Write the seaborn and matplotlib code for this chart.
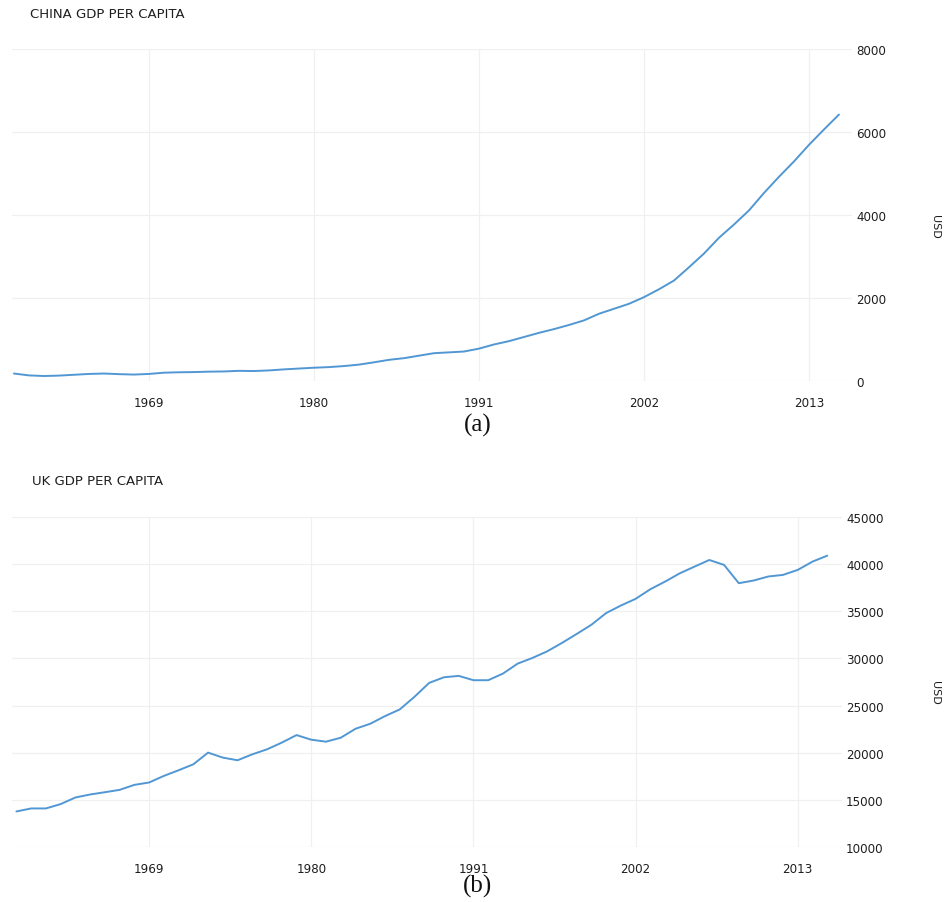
import matplotlib
matplotlib.use("Agg")
import matplotlib.pyplot as plt
import seaborn as sns
import pandas as pd

# Annual GDP per capita (USD), 1960-2015
years = list(range(1960, 2016))

china_gdp = [180, 135, 120, 130, 150, 170, 180, 165, 155, 170,
             200, 210, 215, 225, 230, 245, 240, 255, 280, 300,
             320, 335, 360, 395, 450, 510, 550, 610, 670, 690,
             710, 780, 880, 960, 1060, 1160, 1250, 1350, 1460, 1620,
             1740, 1860, 2020, 2210, 2420, 2740, 3070, 3450, 3770, 4110,
             4530, 4920, 5290, 5690, 6060, 6420]

uk_gdp = [13770, 14090, 14090, 14550, 15250, 15570, 15810, 16060, 16590, 16840,
          17540, 18140, 18770, 20010, 19480, 19200, 19830, 20360, 21070, 21870,
          21380, 21170, 21590, 22540, 23070, 23880, 24590, 25930, 27410, 28000,
          28150, 27690, 27690, 28390, 29450, 30050, 30750, 31640, 32590, 33570,
          34810, 35610, 36320, 37340, 38150, 39030, 39740, 40440, 39920, 37980,
          38260, 38690, 38860, 39390, 40270, 40900]

x_ticks = [1969, 1980, 1991, 2002, 2013]
china_yticks = [0, 2000, 4000, 6000, 8000]
uk_yticks = [10000, 15000, 20000, 25000, 30000, 35000, 40000, 45000]

china_df = pd.DataFrame({"year": years, "gdp": china_gdp})
uk_df = pd.DataFrame({"year": years, "gdp": uk_gdp})

sns.set_style("white")
plt.rcParams["font.family"] = ["DejaVu Sans"]

LINE = "#5197d3"
GRID = "#f0f0f0"
TEXT = "#1e1e1e"

fig = plt.figure(figsize=(9.52, 9.03), dpi=100)
W, H = 952, 903


def make_axes(left, right, top, bottom):
    return fig.add_axes([left / W, 1 - bottom / H, (right - left) / W, (bottom - top) / H])


def style(ax, df, title, yticks, xlim, title_pos, label_pos):
    sns.lineplot(data=df, x="year", y="gdp", ax=ax, color=LINE, linewidth=1.4)
    ax.set_xlim(*xlim)
    ax.set_ylim(yticks[0], yticks[-1])
    ax.set_xticks(x_ticks)
    ax.set_xticklabels([str(t) for t in x_ticks])
    ax.set_yticks(yticks)
    ax.set_yticklabels([str(t) for t in yticks])
    ax.yaxis.tick_right()
    ax.tick_params(axis="both", length=0, labelsize=8.6, colors=TEXT)
    ax.tick_params(axis="x", pad=11)
    ax.tick_params(axis="y", pad=3)
    ax.grid(True, color=GRID, linewidth=0.9)
    ax.set_axisbelow(True)
    for s in ax.spines.values():
        s.set_visible(False)
    ax.set_xlabel("")
    ax.yaxis.set_label_position("right")
    ax.set_ylabel("USD", rotation=270, fontsize=8, color=TEXT)
    ax.yaxis.set_label_coords(label_pos[0], label_pos[1])
    fig.text(title_pos[0] / W, 1 - title_pos[1] / H, title, fontsize=9.5,
             color=TEXT, ha="left", va="center")


ax1 = make_axes(12, 852, 50, 382)
style(ax1, china_df, "CHINA GDP PER CAPITA", china_yticks,
      (1959.87, 2015.87), (30, 15), (1.105, 0.467))

ax2 = make_axes(12, 842, 518, 848)
style(ax2, uk_df, "UK GDP PER CAPITA", uk_yticks,
      (1959.7, 2016.0), (32, 482), (1.118, 0.47))

fig.text(478 / W, 1 - 425 / H, "(a)", fontsize=18, family="Liberation Serif",
         ha="center", va="center", color="#111111")
fig.text(478 / W, 1 - 886 / H, "(b)", fontsize=18, family="Liberation Serif",
         ha="center", va="center", color="#111111")

fig.savefig("out.png", dpi=100, facecolor="white")
